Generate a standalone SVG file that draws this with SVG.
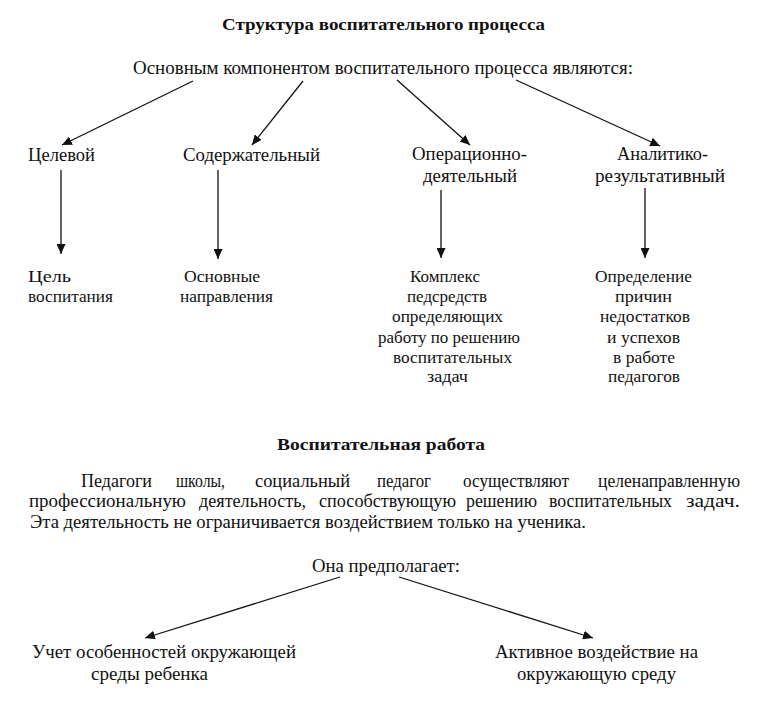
<svg xmlns="http://www.w3.org/2000/svg" width="768" height="702" viewBox="0 0 768 702" font-family="Liberation Serif, DejaVu Serif, serif">
<defs>
<marker id="ah" markerUnits="userSpaceOnUse" markerWidth="10" markerHeight="9" refX="10" refY="4.5" orient="auto">
<path d="M0,0 L10,4.5 L0,9 z" fill="#111"/>
</marker>
</defs>
<style>
text{fill:#111}
.t{font-weight:bold;font-size:17px}
.b{font-size:18px}
.s{font-size:16px}
.e{stroke:#111;stroke-width:1.3;fill:none;marker-end:url(#ah)}
</style>
<rect width="768" height="702" fill="#fff"/>

<g id="title1"><text class="t" x="222" y="30" textLength="323" lengthAdjust="spacingAndGlyphs">Структура воспитательного процесса</text></g>
<g id="root"><text class="b" x="133" y="74" textLength="500" lengthAdjust="spacingAndGlyphs">Основным компонентом воспитательного процесса являются:</text></g>

<g id="n-celevoy"><text class="b" x="28" y="161" textLength="67" lengthAdjust="spacingAndGlyphs">Целевой</text></g>
<g id="n-soderzh"><text class="b" x="183" y="161" textLength="137" lengthAdjust="spacingAndGlyphs">Содержательный</text></g>
<g id="n-oper">
<text class="b" x="412" y="160" textLength="115" lengthAdjust="spacingAndGlyphs">Операционно-</text>
<text class="b" x="423" y="182" textLength="94" lengthAdjust="spacingAndGlyphs">деятельный</text>
</g>
<g id="n-anal">
<text class="b" x="617" y="160" textLength="91" lengthAdjust="spacingAndGlyphs">Аналитико-</text>
<text class="b" x="595" y="182" textLength="130" lengthAdjust="spacingAndGlyphs">результативный</text>
</g>

<g id="r-cel">
<text class="s" x="28" y="282" textLength="43" lengthAdjust="spacingAndGlyphs">Цель</text>
<text class="s" x="28" y="302" textLength="85" lengthAdjust="spacingAndGlyphs">воспитания</text>
</g>
<g id="r-osn">
<text class="s" x="184" y="282" textLength="76" lengthAdjust="spacingAndGlyphs">Основные</text>
<text class="s" x="180" y="302" textLength="93" lengthAdjust="spacingAndGlyphs">направления</text>
</g>
<g id="r-kompl">
<text class="s" x="410" y="282" textLength="70" lengthAdjust="spacingAndGlyphs">Комплекс</text>
<text class="s" x="407" y="302" textLength="80" lengthAdjust="spacingAndGlyphs">педсредств</text>
<text class="s" x="392" y="322" textLength="111" lengthAdjust="spacingAndGlyphs">определяющих</text>
<text class="s" x="378" y="343" textLength="142" lengthAdjust="spacingAndGlyphs">работу по решению</text>
<text class="s" x="393" y="363" textLength="119" lengthAdjust="spacingAndGlyphs">воспитательных</text>
<text class="s" x="427" y="382" textLength="41" lengthAdjust="spacingAndGlyphs">задач</text>
</g>
<g id="r-opred">
<text class="s" x="595" y="282" textLength="97" lengthAdjust="spacingAndGlyphs">Определение</text>
<text class="s" x="615" y="302" textLength="57" lengthAdjust="spacingAndGlyphs">причин</text>
<text class="s" x="600" y="322" textLength="90" lengthAdjust="spacingAndGlyphs">недостатков</text>
<text class="s" x="607" y="343" textLength="73" lengthAdjust="spacingAndGlyphs">и успехов</text>
<text class="s" x="613" y="363" textLength="62" lengthAdjust="spacingAndGlyphs">в работе</text>
<text class="s" x="608" y="382" textLength="72" lengthAdjust="spacingAndGlyphs">педагогов</text>
</g>

<g id="title2"><text class="t" x="277" y="450" textLength="208" lengthAdjust="spacingAndGlyphs">Воспитательная работа</text></g>

<g id="paragraph">
<text class="b" x="81" y="487" textLength="71" lengthAdjust="spacingAndGlyphs">Педагоги</text>
<text class="b" x="176" y="487" textLength="49" lengthAdjust="spacingAndGlyphs">школы,</text>
<text class="b" x="255" y="487" textLength="95" lengthAdjust="spacingAndGlyphs">социальный</text>
<text class="b" x="377" y="487" textLength="54" lengthAdjust="spacingAndGlyphs">педагог</text>
<text class="b" x="463" y="487" textLength="106" lengthAdjust="spacingAndGlyphs">осуществляют</text>
<text class="b" x="598" y="487" textLength="142" lengthAdjust="spacingAndGlyphs">целенаправленную</text>
<text class="b" x="29" y="507" textLength="157" lengthAdjust="spacingAndGlyphs">профессиональную</text>
<text class="b" x="199" y="507" textLength="107" lengthAdjust="spacingAndGlyphs">деятельность,</text>
<text class="b" x="319" y="507" textLength="137" lengthAdjust="spacingAndGlyphs">способствующую</text>
<text class="b" x="466" y="507" textLength="71" lengthAdjust="spacingAndGlyphs">решению</text>
<text class="b" x="549" y="507" textLength="123" lengthAdjust="spacingAndGlyphs">воспитательных</text>
<text class="b" x="686" y="507" textLength="54" lengthAdjust="spacingAndGlyphs">задач.</text>
<text class="b" x="30" y="528" textLength="556" lengthAdjust="spacingAndGlyphs">Эта деятельность не ограничивается воздействием только на ученика.</text>
</g>

<g id="root2"><text class="b" x="312" y="572" textLength="148" lengthAdjust="spacingAndGlyphs">Она предполагает:</text></g>
<g id="n-uchet">
<text class="b" x="32" y="658" textLength="264" lengthAdjust="spacingAndGlyphs">Учет особенностей окружающей</text>
<text class="b" x="91" y="680" textLength="117" lengthAdjust="spacingAndGlyphs">среды ребенка</text>
</g>
<g id="n-aktiv">
<text class="b" x="495" y="658" textLength="203" lengthAdjust="spacingAndGlyphs">Активное воздействие на</text>
<text class="b" x="517" y="680" textLength="159" lengthAdjust="spacingAndGlyphs">окружающую среду</text>
</g>

<g id="connectors">
<line class="e" x1="193" y1="81" x2="62" y2="145"/>
<line class="e" x1="303" y1="81" x2="252" y2="145"/>
<line class="e" x1="397" y1="80" x2="470" y2="145"/>
<line class="e" x1="516" y1="80" x2="660" y2="146"/>
<line class="e" x1="61" y1="170" x2="61" y2="254"/>
<line class="e" x1="218" y1="170" x2="218" y2="259"/>
<line class="e" x1="441" y1="190" x2="441" y2="258"/>
<line class="e" x1="645" y1="188" x2="645" y2="258"/>
<line class="e" x1="340" y1="577" x2="145" y2="638"/>
<line class="e" x1="399" y1="577" x2="593" y2="638"/>
</g>
</svg>
